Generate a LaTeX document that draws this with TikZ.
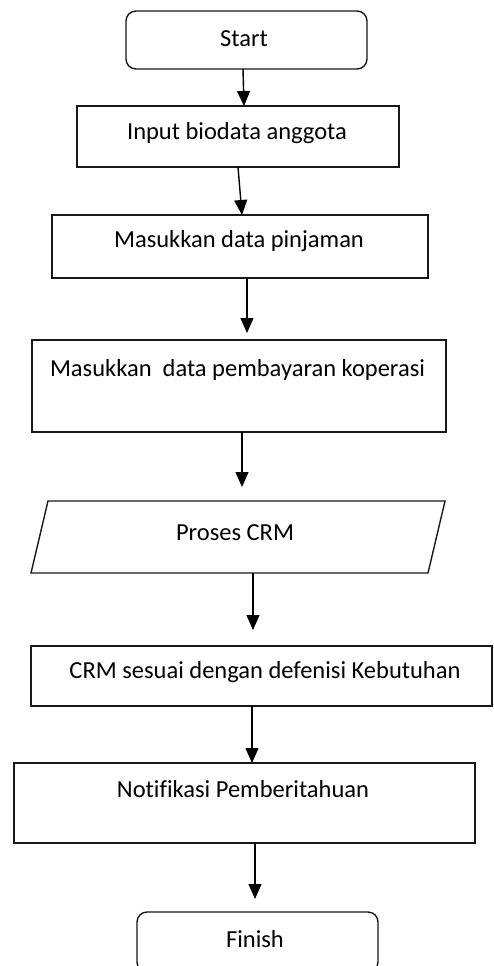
\documentclass[tikz,border=0pt]{standalone}
\usepackage{fontspec}
\setmainfont{Carlito}[Ligatures={TeX,NoCommon}]
\usetikzlibrary{arrows.meta}
\begin{document}
\begin{tikzpicture}[x=1pt,y=-1pt,
  box/.style={draw=black!90,line width=1.4pt,minimum width=#1,inner sep=0pt,outer sep=0pt},
  label/.style={anchor=base,inner sep=0pt,font=\fontsize{24.5}{28}\selectfont},
  arr/.style={draw=black,line width=1.4pt,-{Triangle[length=15pt,width=13pt]}}]
\clip (0,0) rectangle (494,966);
\fill[white] (0,0) rectangle (494,966);
% boxes
\node[box=241pt,minimum height=58pt,rounded corners=10pt] (start) at (246.5,40) {};
\node[box=322pt,minimum height=61pt] (input) at (238,136.5) {};
\node[box=376pt,minimum height=63pt] (pinjam) at (240,246.5) {};
\node[box=414pt,minimum height=92pt] (bayar) at (239,386) {};
\node[minimum width=414pt,minimum height=72pt,inner sep=0pt,outer sep=0pt] (proses) at (238,537) {};
\draw[draw=black!90,line width=1.4pt] (48,501) -- (445,501) -- (428,573) -- (31,573) -- cycle;
\node[box=461pt,minimum height=60pt] (crm) at (261.5,676) {};
\node[box=461pt,minimum height=80pt] (notif) at (244.5,803) {};
\node[box=241pt,minimum height=60pt,rounded corners=10pt] (finish) at (257.5,942) {};
% texts
\node[label] (tstart) at (244,47) {Start};
\node[label] (tinput) at (237,139) {Input biodata anggota};
\node[label] (tpinjam) at (239,247) {Masukkan data pinjaman};
\node[label] (tbayar) at (237.5,376) {Masukkan\ \ data pembayaran koperasi};
\node[label] (tproses) at (235,540) {Proses CRM};
\node[label] (tcrm) at (265,678) {CRM sesuai dengan defenisi Kebutuhan};
\node[label] (tnotif) at (243,797) {Notifikasi Pemberitahuan};
\node[label] (tfinish) at (255,947) {Finish};
% arrows
\draw[arr] ([xshift=-3.5pt]start.south) -- ([xshift=6pt]input.north);
\draw[arr] ([xshift=0pt]input.south) -- ([xshift=2pt]pinjam.north);
\draw[arr] ([xshift=7pt]pinjam.south) -- ([xshift=8pt,yshift=7pt]bayar.north);
\draw[arr] ([xshift=3pt]bayar.south) -- ([xshift=4pt,yshift=14pt]proses.north);
\draw[arr] ([xshift=15pt]proses.south) -- ([xshift=-8.5pt,yshift=16pt]crm.north);
\draw[arr] ([xshift=-9.5pt]crm.south) -- ([xshift=7.5pt]notif.north);
\draw[arr] ([xshift=10.5pt]notif.south) -- ([xshift=-2.5pt,yshift=13pt]finish.north);
\end{tikzpicture}
\end{document}
